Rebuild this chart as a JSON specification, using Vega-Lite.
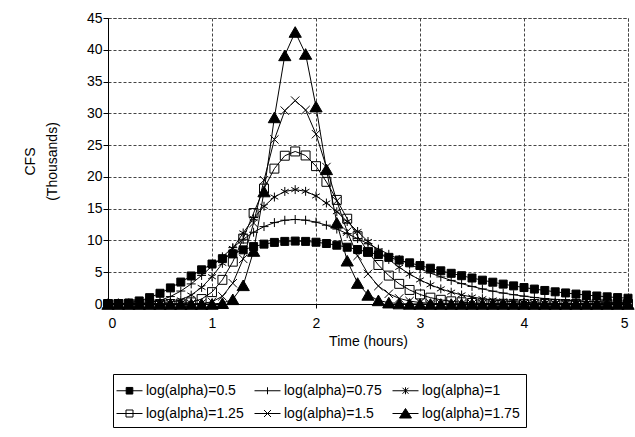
{
"$schema": "https://vega.github.io/schema/vega-lite/v6.json",
"width": 520, "height": 286,
"autosize": "none",
"padding": {"left": 108, "top": 18, "right": 7, "bottom": 133},
"config": {
  "font": "Liberation Sans",
  "view": {"stroke": "#444", "strokeDash": [3, 2], "strokeWidth": 1},
  "axis": {"labelFontSize": 14, "labelColor": "black", "titleFontSize": 14, "titleFontWeight": "normal", "titleColor": "black", "gridColor": "#444", "gridDash": [3, 2], "gridWidth": 1, "gridOpacity": 1, "domainColor": "black", "tickColor": "black", "tickSize": 5, "labelFont": "Liberation Sans", "titleFont": "Liberation Sans"},
  "legend": {"orient": "none", "legendX": 5, "legendY": 356, "direction": "horizontal", "columns": 3,
         "strokeColor": "black", "padding": 6, "symbolSize": 400, "labelFontSize": 14, "labelColor": "black", "labelFont": "Liberation Sans",
         "columnPadding": 8, "rowPadding": 5, "labelOffset": 6, "symbolStrokeWidth": 1, "symbolOpacity": 1}
},
"data": {"values": [
{"t":0,"s":"log(alpha)=0.5","v":0},{"t":0.1,"s":"log(alpha)=0.5","v":0.02},{"t":0.2,"s":"log(alpha)=0.5","v":0.16},{"t":0.3,"s":"log(alpha)=0.5","v":0.48},{"t":0.4,"s":"log(alpha)=0.5","v":1.00},{"t":0.5,"s":"log(alpha)=0.5","v":1.69},{"t":0.6,"s":"log(alpha)=0.5","v":2.53},{"t":0.7,"s":"log(alpha)=0.5","v":3.45},{"t":0.8,"s":"log(alpha)=0.5","v":4.41},{"t":0.9,"s":"log(alpha)=0.5","v":5.38},{"t":1,"s":"log(alpha)=0.5","v":6.29},{"t":1.1,"s":"log(alpha)=0.5","v":7.13},{"t":1.2,"s":"log(alpha)=0.5","v":7.88},{"t":1.3,"s":"log(alpha)=0.5","v":8.52},{"t":1.4,"s":"log(alpha)=0.5","v":9.03},{"t":1.5,"s":"log(alpha)=0.5","v":9.42},{"t":1.6,"s":"log(alpha)=0.5","v":9.69},{"t":1.7,"s":"log(alpha)=0.5","v":9.85},{"t":1.8,"s":"log(alpha)=0.5","v":9.90},{"t":1.9,"s":"log(alpha)=0.5","v":9.85},{"t":2,"s":"log(alpha)=0.5","v":9.72},{"t":2.1,"s":"log(alpha)=0.5","v":9.52},{"t":2.2,"s":"log(alpha)=0.5","v":9.25},{"t":2.3,"s":"log(alpha)=0.5","v":8.93},{"t":2.4,"s":"log(alpha)=0.5","v":8.57},{"t":2.5,"s":"log(alpha)=0.5","v":8.18},{"t":2.6,"s":"log(alpha)=0.5","v":7.77},{"t":2.7,"s":"log(alpha)=0.5","v":7.34},{"t":2.8,"s":"log(alpha)=0.5","v":6.91},{"t":2.9,"s":"log(alpha)=0.5","v":6.48},{"t":3,"s":"log(alpha)=0.5","v":6.05},{"t":3.1,"s":"log(alpha)=0.5","v":5.63},{"t":3.2,"s":"log(alpha)=0.5","v":5.22},{"t":3.3,"s":"log(alpha)=0.5","v":4.83},{"t":3.4,"s":"log(alpha)=0.5","v":4.45},{"t":3.5,"s":"log(alpha)=0.5","v":4.09},{"t":3.6,"s":"log(alpha)=0.5","v":3.75},{"t":3.7,"s":"log(alpha)=0.5","v":3.43},{"t":3.8,"s":"log(alpha)=0.5","v":3.13},{"t":3.9,"s":"log(alpha)=0.5","v":2.85},{"t":4,"s":"log(alpha)=0.5","v":2.59},{"t":4.1,"s":"log(alpha)=0.5","v":2.35},{"t":4.2,"s":"log(alpha)=0.5","v":2.13},{"t":4.3,"s":"log(alpha)=0.5","v":1.92},{"t":4.4,"s":"log(alpha)=0.5","v":1.74},{"t":4.5,"s":"log(alpha)=0.5","v":1.56},{"t":4.6,"s":"log(alpha)=0.5","v":1.41},{"t":4.7,"s":"log(alpha)=0.5","v":1.26},{"t":4.8,"s":"log(alpha)=0.5","v":1.13},{"t":4.9,"s":"log(alpha)=0.5","v":1.01},{"t":5,"s":"log(alpha)=0.5","v":0.91},
{"t":0,"s":"log(alpha)=0.75","v":0},{"t":0.1,"s":"log(alpha)=0.75","v":0},{"t":0.2,"s":"log(alpha)=0.75","v":0.01},{"t":0.3,"s":"log(alpha)=0.75","v":0.06},{"t":0.4,"s":"log(alpha)=0.75","v":0.22},{"t":0.5,"s":"log(alpha)=0.75","v":0.57},{"t":0.6,"s":"log(alpha)=0.75","v":1.17},{"t":0.7,"s":"log(alpha)=0.75","v":2.04},{"t":0.8,"s":"log(alpha)=0.75","v":3.16},{"t":0.9,"s":"log(alpha)=0.75","v":4.49},{"t":1,"s":"log(alpha)=0.75","v":5.94},{"t":1.1,"s":"log(alpha)=0.75","v":7.43},{"t":1.2,"s":"log(alpha)=0.75","v":8.87},{"t":1.3,"s":"log(alpha)=0.75","v":10.18},{"t":1.4,"s":"log(alpha)=0.75","v":11.29},{"t":1.5,"s":"log(alpha)=0.75","v":12.18},{"t":1.6,"s":"log(alpha)=0.75","v":12.81},{"t":1.7,"s":"log(alpha)=0.75","v":13.18},{"t":1.8,"s":"log(alpha)=0.75","v":13.30},{"t":1.9,"s":"log(alpha)=0.75","v":13.19},{"t":2,"s":"log(alpha)=0.75","v":12.88},{"t":2.1,"s":"log(alpha)=0.75","v":12.40},{"t":2.2,"s":"log(alpha)=0.75","v":11.79},{"t":2.3,"s":"log(alpha)=0.75","v":11.07},{"t":2.4,"s":"log(alpha)=0.75","v":10.29},{"t":2.5,"s":"log(alpha)=0.75","v":9.47},{"t":2.6,"s":"log(alpha)=0.75","v":8.64},{"t":2.7,"s":"log(alpha)=0.75","v":7.82},{"t":2.8,"s":"log(alpha)=0.75","v":7.01},{"t":2.9,"s":"log(alpha)=0.75","v":6.25},{"t":3,"s":"log(alpha)=0.75","v":5.54},{"t":3.1,"s":"log(alpha)=0.75","v":4.87},{"t":3.2,"s":"log(alpha)=0.75","v":4.26},{"t":3.3,"s":"log(alpha)=0.75","v":3.71},{"t":3.4,"s":"log(alpha)=0.75","v":3.21},{"t":3.5,"s":"log(alpha)=0.75","v":2.76},{"t":3.6,"s":"log(alpha)=0.75","v":2.37},{"t":3.7,"s":"log(alpha)=0.75","v":2.02},{"t":3.8,"s":"log(alpha)=0.75","v":1.72},{"t":3.9,"s":"log(alpha)=0.75","v":1.46},{"t":4,"s":"log(alpha)=0.75","v":1.23},{"t":4.1,"s":"log(alpha)=0.75","v":1.03},{"t":4.2,"s":"log(alpha)=0.75","v":0.86},{"t":4.3,"s":"log(alpha)=0.75","v":0.72},{"t":4.4,"s":"log(alpha)=0.75","v":0.60},{"t":4.5,"s":"log(alpha)=0.75","v":0.50},{"t":4.6,"s":"log(alpha)=0.75","v":0.41},{"t":4.7,"s":"log(alpha)=0.75","v":0.34},{"t":4.8,"s":"log(alpha)=0.75","v":0.28},{"t":4.9,"s":"log(alpha)=0.75","v":0.23},{"t":5,"s":"log(alpha)=0.75","v":0.19},
{"t":0,"s":"log(alpha)=1","v":0},{"t":0.1,"s":"log(alpha)=1","v":0},{"t":0.2,"s":"log(alpha)=1","v":0},{"t":0.3,"s":"log(alpha)=1","v":0},{"t":0.4,"s":"log(alpha)=1","v":0.01},{"t":0.5,"s":"log(alpha)=1","v":0.07},{"t":0.6,"s":"log(alpha)=1","v":0.24},{"t":0.7,"s":"log(alpha)=1","v":0.64},{"t":0.8,"s":"log(alpha)=1","v":1.40},{"t":0.9,"s":"log(alpha)=1","v":2.61},{"t":1,"s":"log(alpha)=1","v":4.29},{"t":1.1,"s":"log(alpha)=1","v":6.39},{"t":1.2,"s":"log(alpha)=1","v":8.75},{"t":1.3,"s":"log(alpha)=1","v":11.18},{"t":1.4,"s":"log(alpha)=1","v":13.46},{"t":1.5,"s":"log(alpha)=1","v":15.38},{"t":1.6,"s":"log(alpha)=1","v":16.83},{"t":1.7,"s":"log(alpha)=1","v":17.71},{"t":1.8,"s":"log(alpha)=1","v":18.00},{"t":1.9,"s":"log(alpha)=1","v":17.73},{"t":2,"s":"log(alpha)=1","v":17.00},{"t":2.1,"s":"log(alpha)=1","v":15.89},{"t":2.2,"s":"log(alpha)=1","v":14.52},{"t":2.3,"s":"log(alpha)=1","v":12.98},{"t":2.4,"s":"log(alpha)=1","v":11.41},{"t":2.5,"s":"log(alpha)=1","v":9.84},{"t":2.6,"s":"log(alpha)=1","v":8.36},{"t":2.7,"s":"log(alpha)=1","v":7.00},{"t":2.8,"s":"log(alpha)=1","v":5.77},{"t":2.9,"s":"log(alpha)=1","v":4.70},{"t":3,"s":"log(alpha)=1","v":3.79},{"t":3.1,"s":"log(alpha)=1","v":3.02},{"t":3.2,"s":"log(alpha)=1","v":2.38},{"t":3.3,"s":"log(alpha)=1","v":1.86},{"t":3.4,"s":"log(alpha)=1","v":1.43},{"t":3.5,"s":"log(alpha)=1","v":1.10},{"t":3.6,"s":"log(alpha)=1","v":0.84},{"t":3.7,"s":"log(alpha)=1","v":0.63},{"t":3.8,"s":"log(alpha)=1","v":0.47},{"t":3.9,"s":"log(alpha)=1","v":0.35},{"t":4,"s":"log(alpha)=1","v":0.26},{"t":4.1,"s":"log(alpha)=1","v":0.19},{"t":4.2,"s":"log(alpha)=1","v":0.14},{"t":4.3,"s":"log(alpha)=1","v":0.10},{"t":4.4,"s":"log(alpha)=1","v":0.07},{"t":4.5,"s":"log(alpha)=1","v":0.05},{"t":4.6,"s":"log(alpha)=1","v":0.04},{"t":4.7,"s":"log(alpha)=1","v":0.03},{"t":4.8,"s":"log(alpha)=1","v":0.02},{"t":4.9,"s":"log(alpha)=1","v":0.01},{"t":5,"s":"log(alpha)=1","v":0.01},
{"t":0,"s":"log(alpha)=1.25","v":0},{"t":0.1,"s":"log(alpha)=1.25","v":0},{"t":0.2,"s":"log(alpha)=1.25","v":0},{"t":0.3,"s":"log(alpha)=1.25","v":0},{"t":0.4,"s":"log(alpha)=1.25","v":0},{"t":0.5,"s":"log(alpha)=1.25","v":0},{"t":0.6,"s":"log(alpha)=1.25","v":0},{"t":0.7,"s":"log(alpha)=1.25","v":0.06},{"t":0.8,"s":"log(alpha)=1.25","v":0.26},{"t":0.9,"s":"log(alpha)=1.25","v":0.78},{"t":1,"s":"log(alpha)=1.25","v":1.87},{"t":1.1,"s":"log(alpha)=1.25","v":3.80},{"t":1.2,"s":"log(alpha)=1.25","v":6.66},{"t":1.3,"s":"log(alpha)=1.25","v":10.30},{"t":1.4,"s":"log(alpha)=1.25","v":14.31},{"t":1.5,"s":"log(alpha)=1.25","v":18.16},{"t":1.6,"s":"log(alpha)=1.25","v":21.30},{"t":1.7,"s":"log(alpha)=1.25","v":23.33},{"t":1.8,"s":"log(alpha)=1.25","v":24.00},{"t":1.9,"s":"log(alpha)=1.25","v":23.37},{"t":2,"s":"log(alpha)=1.25","v":21.69},{"t":2.1,"s":"log(alpha)=1.25","v":19.22},{"t":2.2,"s":"log(alpha)=1.25","v":16.38},{"t":2.3,"s":"log(alpha)=1.25","v":13.42},{"t":2.4,"s":"log(alpha)=1.25","v":10.67},{"t":2.5,"s":"log(alpha)=1.25","v":8.20},{"t":2.6,"s":"log(alpha)=1.25","v":6.14},{"t":2.7,"s":"log(alpha)=1.25","v":4.47},{"t":2.8,"s":"log(alpha)=1.25","v":3.17},{"t":2.9,"s":"log(alpha)=1.25","v":2.21},{"t":3,"s":"log(alpha)=1.25","v":1.50},{"t":3.1,"s":"log(alpha)=1.25","v":1.00},{"t":3.2,"s":"log(alpha)=1.25","v":0.66},{"t":3.3,"s":"log(alpha)=1.25","v":0.42},{"t":3.4,"s":"log(alpha)=1.25","v":0.27},{"t":3.5,"s":"log(alpha)=1.25","v":0.17},{"t":3.6,"s":"log(alpha)=1.25","v":0.10},{"t":3.7,"s":"log(alpha)=1.25","v":0.06},{"t":3.8,"s":"log(alpha)=1.25","v":0.04},{"t":3.9,"s":"log(alpha)=1.25","v":0.02},{"t":4,"s":"log(alpha)=1.25","v":0.01},{"t":4.1,"s":"log(alpha)=1.25","v":0},{"t":4.2,"s":"log(alpha)=1.25","v":0},{"t":4.3,"s":"log(alpha)=1.25","v":0},{"t":4.4,"s":"log(alpha)=1.25","v":0},{"t":4.5,"s":"log(alpha)=1.25","v":0},{"t":4.6,"s":"log(alpha)=1.25","v":0},{"t":4.7,"s":"log(alpha)=1.25","v":0},{"t":4.8,"s":"log(alpha)=1.25","v":0},{"t":4.9,"s":"log(alpha)=1.25","v":0},{"t":5,"s":"log(alpha)=1.25","v":0},
{"t":0,"s":"log(alpha)=1.5","v":0},{"t":0.1,"s":"log(alpha)=1.5","v":0},{"t":0.2,"s":"log(alpha)=1.5","v":0},{"t":0.3,"s":"log(alpha)=1.5","v":0},{"t":0.4,"s":"log(alpha)=1.5","v":0},{"t":0.5,"s":"log(alpha)=1.5","v":0},{"t":0.6,"s":"log(alpha)=1.5","v":0},{"t":0.7,"s":"log(alpha)=1.5","v":0},{"t":0.8,"s":"log(alpha)=1.5","v":0},{"t":0.9,"s":"log(alpha)=1.5","v":0.07},{"t":1,"s":"log(alpha)=1.5","v":0.34},{"t":1.1,"s":"log(alpha)=1.5","v":1.21},{"t":1.2,"s":"log(alpha)=1.5","v":3.27},{"t":1.3,"s":"log(alpha)=1.5","v":7.10},{"t":1.4,"s":"log(alpha)=1.5","v":12.75},{"t":1.5,"s":"log(alpha)=1.5","v":19.48},{"t":1.6,"s":"log(alpha)=1.5","v":25.89},{"t":1.7,"s":"log(alpha)=1.5","v":30.42},{"t":1.8,"s":"log(alpha)=1.5","v":32.00},{"t":1.9,"s":"log(alpha)=1.5","v":30.52},{"t":2,"s":"log(alpha)=1.5","v":26.72},{"t":2.1,"s":"log(alpha)=1.5","v":21.55},{"t":2.2,"s":"log(alpha)=1.5","v":16.21},{"t":2.3,"s":"log(alpha)=1.5","v":11.38},{"t":2.4,"s":"log(alpha)=1.5","v":7.57},{"t":2.5,"s":"log(alpha)=1.5","v":4.74},{"t":2.6,"s":"log(alpha)=1.5","v":2.83},{"t":2.7,"s":"log(alpha)=1.5","v":1.61},{"t":2.8,"s":"log(alpha)=1.5","v":0.88},{"t":2.9,"s":"log(alpha)=1.5","v":0.46},{"t":3,"s":"log(alpha)=1.5","v":0.23},{"t":3.1,"s":"log(alpha)=1.5","v":0.11},{"t":3.2,"s":"log(alpha)=1.5","v":0.05},{"t":3.3,"s":"log(alpha)=1.5","v":0.02},{"t":3.4,"s":"log(alpha)=1.5","v":0.01},{"t":3.5,"s":"log(alpha)=1.5","v":0},{"t":3.6,"s":"log(alpha)=1.5","v":0},{"t":3.7,"s":"log(alpha)=1.5","v":0},{"t":3.8,"s":"log(alpha)=1.5","v":0},{"t":3.9,"s":"log(alpha)=1.5","v":0},{"t":4,"s":"log(alpha)=1.5","v":0},{"t":4.1,"s":"log(alpha)=1.5","v":0},{"t":4.2,"s":"log(alpha)=1.5","v":0},{"t":4.3,"s":"log(alpha)=1.5","v":0},{"t":4.4,"s":"log(alpha)=1.5","v":0},{"t":4.5,"s":"log(alpha)=1.5","v":0},{"t":4.6,"s":"log(alpha)=1.5","v":0},{"t":4.7,"s":"log(alpha)=1.5","v":0},{"t":4.8,"s":"log(alpha)=1.5","v":0},{"t":4.9,"s":"log(alpha)=1.5","v":0},{"t":5,"s":"log(alpha)=1.5","v":0},
{"t":0,"s":"log(alpha)=1.75","v":0},{"t":0.1,"s":"log(alpha)=1.75","v":0},{"t":0.2,"s":"log(alpha)=1.75","v":0},{"t":0.3,"s":"log(alpha)=1.75","v":0},{"t":0.4,"s":"log(alpha)=1.75","v":0},{"t":0.5,"s":"log(alpha)=1.75","v":0},{"t":0.6,"s":"log(alpha)=1.75","v":0},{"t":0.7,"s":"log(alpha)=1.75","v":0},{"t":0.8,"s":"log(alpha)=1.75","v":0},{"t":0.9,"s":"log(alpha)=1.75","v":0},{"t":1,"s":"log(alpha)=1.75","v":0.01},{"t":1.1,"s":"log(alpha)=1.75","v":0.13},{"t":1.2,"s":"log(alpha)=1.75","v":0.74},{"t":1.3,"s":"log(alpha)=1.75","v":2.94},{"t":1.4,"s":"log(alpha)=1.75","v":8.34},{"t":1.5,"s":"log(alpha)=1.75","v":17.70},{"t":1.6,"s":"log(alpha)=1.75","v":29.36},{"t":1.7,"s":"log(alpha)=1.75","v":39.12},{"t":1.8,"s":"log(alpha)=1.75","v":42.80},{"t":1.9,"s":"log(alpha)=1.75","v":39.34},{"t":2,"s":"log(alpha)=1.75","v":31.06},{"t":2.1,"s":"log(alpha)=1.75","v":21.19},{"t":2.2,"s":"log(alpha)=1.75","v":12.78},{"t":2.3,"s":"log(alpha)=1.75","v":6.81},{"t":2.4,"s":"log(alpha)=1.75","v":3.30},{"t":2.5,"s":"log(alpha)=1.75","v":1.43},{"t":2.6,"s":"log(alpha)=1.75","v":0.57},{"t":2.7,"s":"log(alpha)=1.75","v":0.21},{"t":2.8,"s":"log(alpha)=1.75","v":0.07},{"t":2.9,"s":"log(alpha)=1.75","v":0.02},{"t":3,"s":"log(alpha)=1.75","v":0.01},{"t":3.1,"s":"log(alpha)=1.75","v":0},{"t":3.2,"s":"log(alpha)=1.75","v":0},{"t":3.3,"s":"log(alpha)=1.75","v":0},{"t":3.4,"s":"log(alpha)=1.75","v":0},{"t":3.5,"s":"log(alpha)=1.75","v":0},{"t":3.6,"s":"log(alpha)=1.75","v":0},{"t":3.7,"s":"log(alpha)=1.75","v":0},{"t":3.8,"s":"log(alpha)=1.75","v":0},{"t":3.9,"s":"log(alpha)=1.75","v":0},{"t":4,"s":"log(alpha)=1.75","v":0},{"t":4.1,"s":"log(alpha)=1.75","v":0},{"t":4.2,"s":"log(alpha)=1.75","v":0},{"t":4.3,"s":"log(alpha)=1.75","v":0},{"t":4.4,"s":"log(alpha)=1.75","v":0},{"t":4.5,"s":"log(alpha)=1.75","v":0},{"t":4.6,"s":"log(alpha)=1.75","v":0},{"t":4.7,"s":"log(alpha)=1.75","v":0},{"t":4.8,"s":"log(alpha)=1.75","v":0},{"t":4.9,"s":"log(alpha)=1.75","v":0},{"t":5,"s":"log(alpha)=1.75","v":0}
]},
"encoding": {
  "x": {"field": "t", "type": "quantitative", "scale": {"domain": [0, 5], "nice": false},
        "axis": {"title": "Time (hours)", "values": [0, 1, 2, 3, 4, 5], "labelPadding": 8, "titlePadding": 4, "tickSize": 4}},
  "y": {"field": "v", "type": "quantitative", "scale": {"domain": [0, 45], "nice": false},
        "axis": {"title": ["CFS", "(Thousands)"], "values": [0, 5, 10, 15, 20, 25, 30, 35, 40, 45], "labelPadding": 1, "titlePadding": 27, "titleLineHeight": 22}}
},
"layer": [
  {"mark": {"type": "line", "color": "black", "strokeWidth": 1}, "encoding": {"detail": {"field": "s"}}},
  {"transform": [{"filter": "datum.s === 'log(alpha)=0.5'"}],
   "mark": {"type": "point", "shape": "square", "filled": true, "color": "black", "fill": "black", "stroke": "black", "strokeWidth": 1, "size": 64, "opacity": 1}},
  {"transform": [{"filter": "datum.s === 'log(alpha)=0.75'"}],
   "mark": {"type": "point", "shape": "M-1,0L1,0M0,-1L0,1", "filled": false, "color": "black", "stroke": "black", "strokeWidth": 1, "size": 80, "opacity": 1}},
  {"transform": [{"filter": "datum.s === 'log(alpha)=1'"}],
   "mark": {"type": "point", "shape": "M0,-1L0,1M-0.87,-0.5L0.87,0.5M-0.87,0.5L0.87,-0.5", "filled": false, "color": "black", "stroke": "black", "strokeWidth": 1, "size": 80, "opacity": 1}},
  {"transform": [{"filter": "datum.s === 'log(alpha)=1.25'"}],
   "mark": {"type": "point", "shape": "square", "filled": false, "color": "black", "stroke": "black", "strokeWidth": 1, "size": 80, "opacity": 1}},
  {"transform": [{"filter": "datum.s === 'log(alpha)=1.5'"}],
   "mark": {"type": "point", "shape": "M-1,-1L1,1M-1,1L1,-1", "filled": false, "color": "black", "stroke": "black", "strokeWidth": 1, "size": 70, "opacity": 1}},
  {"transform": [{"filter": "datum.s === 'log(alpha)=1.75'"}],
   "mark": {"type": "point", "shape": "triangle-up", "filled": true, "color": "black", "fill": "black", "stroke": "black", "strokeWidth": 1, "size": 150, "opacity": 1}},
  {"transform": [{"filter": "false"}],
   "mark": {"type": "point", "filled": true, "strokeWidth": 1},
   "encoding": {
     "shape": {"field": "s", "type": "nominal", "title": null,
       "scale": {"domain": ["log(alpha)=0.5", "log(alpha)=0.75", "log(alpha)=1", "log(alpha)=1.25", "log(alpha)=1.5", "log(alpha)=1.75"],
                 "range": ["M-1.3,0L1.3,0M-0.33,-0.33L0.33,-0.33L0.33,0.33L-0.33,0.33Z", "M-1.3,0L1.3,0M0,-0.35L0,0.35", "M-1.3,0L1.3,0M-0.3,-0.3L0.3,0.3M-0.3,0.3L0.3,-0.3M0,-0.35L0,0.35", "M-1.3,0L1.3,0M-0.35,-0.35L0.35,-0.35L0.35,0.35L-0.35,0.35Z", "M-1.3,0L1.3,0M-0.35,-0.35L0.35,0.35M-0.35,0.35L0.35,-0.35", "M-1.3,0L1.3,0M0,-0.5L0.6,0.45L-0.6,0.45Z"]}},
     "fill": {"field": "s", "type": "nominal", "title": null,
       "scale": {"domain": ["log(alpha)=0.5", "log(alpha)=0.75", "log(alpha)=1", "log(alpha)=1.25", "log(alpha)=1.5", "log(alpha)=1.75"],
                 "range": ["black", "transparent", "transparent", "transparent", "transparent", "black"]}},
     "stroke": {"field": "s", "type": "nominal", "title": null,
       "scale": {"domain": ["log(alpha)=0.5", "log(alpha)=0.75", "log(alpha)=1", "log(alpha)=1.25", "log(alpha)=1.5", "log(alpha)=1.75"],
                 "range": ["black", "black", "black", "black", "black", "black"]}}
   }}
]
}
